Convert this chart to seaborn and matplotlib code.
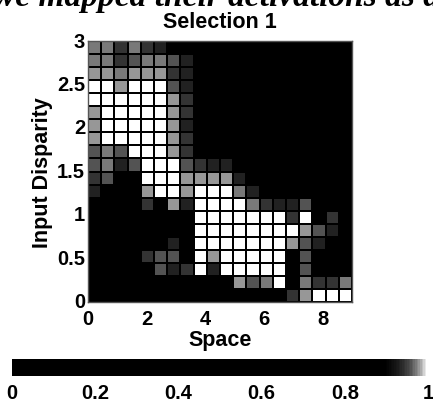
import numpy as np
import pandas as pd
import matplotlib
matplotlib.use("Agg")
import matplotlib.pyplot as plt
from matplotlib.colors import LinearSegmentedColormap
import seaborn as sns

# Activation values (rows from top: disparity 3 -> 0; columns: space 0 -> 9)
W = 1.0     # white cells
G = 0.98    # checkered grey
g = 0.97
d = 0.96
f = 0.945
e = 0.93
o = 0.0
activations = [
    [g, g, f, g, f, e, o, o, o, o, o, o, o, o, o, o, o, o, o, o],
    [g, g, f, d, g, g, d, e, o, o, o, o, o, o, o, o, o, o, o, o],
    [G, G, g, G, G, G, f, e, o, o, o, o, o, o, o, o, o, o, o, o],
    [W, W, G, W, W, W, d, e, o, o, o, o, o, o, o, o, o, o, o, o],
    [W, W, W, W, W, W, G, f, o, o, o, o, o, o, o, o, o, o, o, o],
    [G, W, W, W, W, W, G, f, o, o, o, o, o, o, o, o, o, o, o, o],
    [G, W, W, W, W, W, G, e, o, o, o, o, o, o, o, o, o, o, o, o],
    [G, W, W, W, W, W, G, f, o, o, o, o, o, o, o, o, o, o, o, o],
    [d, g, d, W, W, W, G, f, o, o, o, o, o, o, o, o, o, o, o, o],
    [d, g, e, d, W, W, W, d, f, e, e, o, o, o, o, o, o, o, o, o],
    [f, d, o, o, W, W, W, G, G, G, G, e, o, o, o, o, o, o, o, o],
    [e, o, o, o, G, W, W, G, W, W, W, g, e, o, o, o, o, o, o, o],
    [o, o, o, o, f, o, G, e, W, W, W, W, g, f, e, e, d, o, o, o],
    [o, o, o, o, o, o, o, o, W, W, W, W, W, W, W, f, W, o, f, o],
    [o, o, o, o, o, o, o, o, W, W, W, W, W, W, W, W, G, d, e, o],
    [o, o, o, o, o, o, e, o, W, W, W, W, W, W, W, G, d, e, o, o],
    [o, o, o, o, f, d, d, o, W, G, W, W, W, W, W, o, d, o, o, o],
    [o, o, o, o, o, d, e, f, W, e, W, W, W, W, W, o, d, o, o, o],
    [o, o, o, o, o, o, o, o, o, o, o, G, d, g, W, o, g, f, f, g],
    [o, o, o, o, o, o, o, o, o, o, o, o, o, o, o, f, G, W, W, W],
]
space_step = 0.45
disp_step = 0.15
x_ticks = [0, 2, 4, 6, 8]
y_ticks = [0, 0.5, 1, 1.5, 2, 2.5, 3]
y_tick_labels = ["0", "0.5", "1", "1.5", "2", "2.5", "3"]
cbar_ticks = [0, 0.2, 0.4, 0.6, 0.8, 1]
cbar_labels = ["0", "0.2", "0.4", "0.6", "0.8", "1"]

plt.rcParams['font.family'] = ['Liberation Sans', 'DejaVu Sans']
plt.rcParams['font.weight'] = 'bold'

cmap = LinearSegmentedColormap.from_list("sel", [
    (0.0, '#000000'), (0.90, '#000000'), (0.93, '#1c1c1c'),
    (0.945, '#333333'), (0.96, '#505050'), (0.97, '#707070'),
    (0.98, '#959595'), (0.99, '#c8c8c8'), (1.0, '#ffffff')])

df = pd.DataFrame(np.array(activations))

fig = plt.figure(figsize=(4.33, 4.02), dpi=100)
ax = fig.add_axes([88/433, 99/402, 264/433, 261/402])
cax = fig.add_axes([12/433, 25/402, 416/433, 17/402])

sns.heatmap(df, ax=ax, cmap=cmap, vmin=0, vmax=1, linewidths=1.4,
            linecolor='black', cbar_ax=cax,
            cbar_kws={'orientation': 'horizontal', 'ticks': cbar_ticks})

ax.set_xticks([v / space_step for v in x_ticks])
ax.set_xticklabels([str(v) for v in x_ticks], rotation=0, fontsize=14.5,
                   fontweight='bold')
ax.set_yticks([(3 - v) / disp_step for v in y_ticks])
ax.set_yticklabels(y_tick_labels, rotation=0, fontsize=14.5, fontweight='bold')
ax.tick_params(axis='x', length=0, pad=5)
ax.tick_params(axis='y', length=0, pad=2)
for s in ax.spines.values():
    s.set_visible(True)
    s.set_color('#555555')
    s.set_linewidth(1.0)
ax.set_xlabel("Space", fontsize=15.5, fontweight='bold', labelpad=1)
ax.set_ylabel("Input Disparity", fontsize=15.5, fontweight='bold', labelpad=3)
ax.set_title("Selection 1", fontsize=15.5, fontweight='bold', pad=10)

cax.set_xticks(cbar_ticks)
cax.set_xticklabels(cbar_labels, fontsize=14.5, fontweight='bold')
cax.tick_params(length=0, pad=5)
cax.xaxis.set_ticks_position('bottom')
for s in cax.spines.values():
    s.set_color('#888888')

fig.text(0.5, 1 - 6/402, "we mapped their activations as a", ha='center',
         va='baseline', fontsize=24, fontweight='bold', fontstyle='italic',
         family=['Liberation Serif', 'DejaVu Serif'])

fig.savefig("out.png", dpi=100, facecolor='white')
